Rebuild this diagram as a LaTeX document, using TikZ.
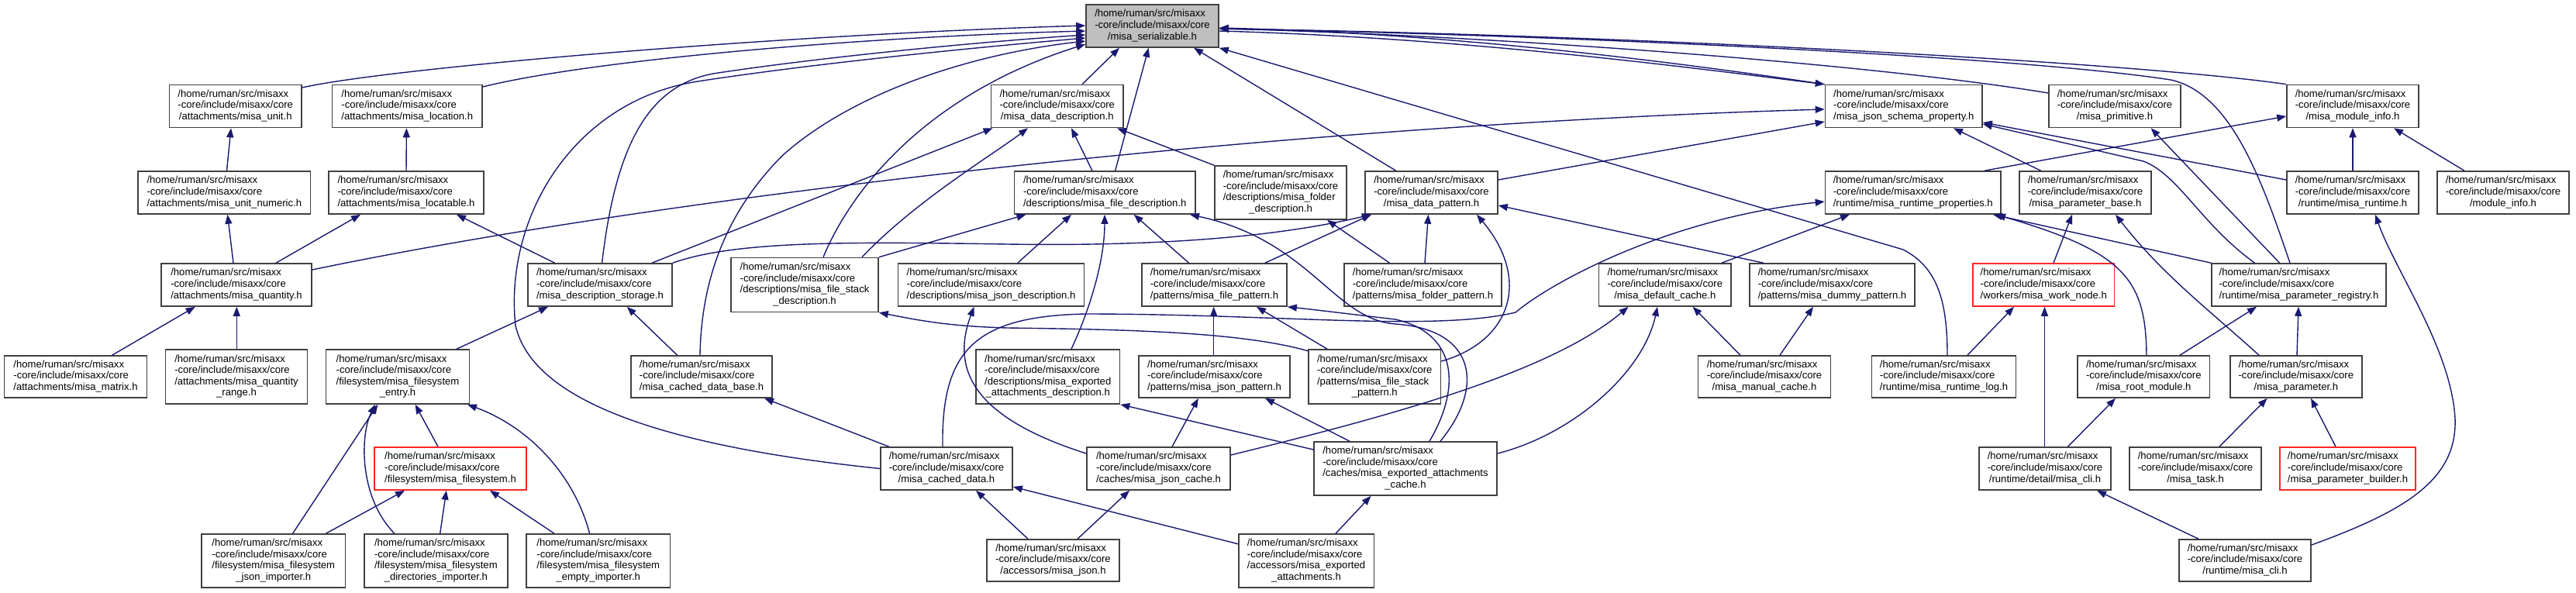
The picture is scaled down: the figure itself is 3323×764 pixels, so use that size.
\documentclass[tikz,border=0pt]{standalone}
\usepackage{fontspec}
\setmainfont{Liberation Sans}
\usetikzlibrary{arrows.meta}
\definecolor{edgec}{HTML}{191970}
\definecolor{boxc}{HTML}{404040}
\definecolor{serfill}{HTML}{BFBFBF}
\newcommand{\lblA}[1]{\begin{tabular}{@{}l@{}}/home/ruman/src/misaxx\\-core/include/misaxx/core\\\multicolumn{1}{@{}c@{}}{#1}\end{tabular}}
\newcommand{\lblB}[2]{\begin{tabular}{@{}l@{}}/home/ruman/src/misaxx\\-core/include/misaxx/core\\#1\\\multicolumn{1}{@{}c@{}}{#2}\end{tabular}}
\tikzset{
  nbox/.style={draw=boxc, line width=1.6pt, fill=white, inner sep=0pt, minimum height=55pt, font=\fontsize{13.1}{14.6}\selectfont},
  tall/.style={minimum height=69pt},
  rbox/.style={nbox, draw=red!85!white},
  edg/.style={draw=edgec, line width=1.4pt, -{Triangle[length=12pt,width=9pt]}},
}
\begin{document}
\begin{tikzpicture}[x=1pt,y=-1pt]
\useasboundingbox (0,0) rectangle (3323,764);
% row 0
\node[nbox,minimum width=171pt,fill=serfill] (ser) at (1486.5,33.5) {\lblA{/misa\_serializable.h}};
% row 1
\node[nbox,minimum width=170.5pt] (unit) at (303.75,137) {\lblA{/attachments/misa\_unit.h}};
\node[nbox,minimum width=193.5pt] (location) at (525.25,137) {\lblA{/attachments/misa\_location.h}};
\node[nbox,minimum width=170.5pt] (datadesc) at (1363.75,137) {\lblA{/misa\_data\_description.h}};
\node[nbox,minimum width=202.5pt] (jsp) at (2455.75,137) {\lblA{/misa\_json\_schema\_property.h}};
\node[nbox,minimum width=170pt] (primitive) at (2728,137) {\lblA{/misa\_primitive.h}};
\node[nbox,minimum width=170pt] (moduleinfo) at (3035,137) {\lblA{/misa\_module\_info.h}};
% row 2
\node[nbox,minimum width=222.6pt] (unitnum) at (289.3,248.5) {\lblA{/attachments/misa\_unit\_numeric.h}};
\node[nbox,minimum width=200pt] (locatable) at (524,248.5) {\lblA{/attachments/misa\_locatable.h}};
\node[nbox,minimum width=233.5pt] (filedesc) at (1425.25,248.5) {\lblA{/descriptions/misa\_file\_description.h}};
\node[nbox,tall,minimum width=170pt] (folderdesc) at (1652,248.5) {\lblB{/descriptions/misa\_folder}{\_description.h}};
\node[nbox,minimum width=171pt] (datapattern) at (1846.5,248.5) {\lblA{/misa\_data\_pattern.h}};
\node[nbox,minimum width=226.5pt] (runtimeprops) at (2467.75,248.5) {\lblA{/runtime/misa\_runtime\_properties.h}};
\node[nbox,minimum width=170pt] (parambase) at (2690,248.5) {\lblA{/misa\_parameter\_base.h}};
\node[nbox,minimum width=170pt] (runtime) at (3035,248.5) {\lblA{/runtime/misa\_runtime.h}};
\node[nbox,minimum width=170pt] (moduleinfoh) at (3229,248.5) {\lblA{/module\_info.h}};
% row 3
\node[nbox,minimum width=194pt] (quantity) at (305,367.5) {\lblA{/attachments/misa\_quantity.h}};
\node[nbox,minimum width=186pt] (descstorage) at (774,367.5) {\lblA{/misa\_description\_storage.h}};
\node[nbox,tall,minimum height=70pt,minimum width=190pt] (filestackdesc) at (1038,367.5) {\lblB{/descriptions/misa\_file\_stack}{\_description.h}};
\node[nbox,minimum width=240pt] (jsondesc) at (1278.5,367.5) {\lblA{/descriptions/misa\_json\_description.h}};
\node[nbox,minimum width=187pt] (filepattern) at (1566.5,367.5) {\lblA{/patterns/misa\_file\_pattern.h}};
\node[nbox,minimum width=203pt] (folderpattern) at (1835.5,367.5) {\lblA{/patterns/misa\_folder\_pattern.h}};
\node[nbox,minimum width=170.4pt] (defaultcache) at (2147.8,367.5) {\lblA{/misa\_default\_cache.h}};
\node[nbox,minimum width=213pt] (dummypattern) at (2363.5,367.5) {\lblA{/patterns/misa\_dummy\_pattern.h}};
\node[rbox,minimum width=182.5pt] (worknode) at (2636.25,367.5) {\lblA{/workers/misa\_work\_node.h}};
\node[nbox,minimum width=225pt] (paramregistry) at (2965.5,367.5) {\lblA{/runtime/misa\_parameter\_registry.h}};
% row 4
\node[nbox,minimum height=54pt,minimum width=184pt] (matrix) at (97.5,486) {\lblA{/attachments/misa\_matrix.h}};
\node[nbox,minimum height=70pt,minimum width=182.7pt] (quantityrange) at (305,486) {\lblB{/attachments/misa\_quantity}{\_range.h}};
\node[nbox,minimum height=70pt,minimum width=185pt] (fsentry) at (513,486) {\lblB{/filesystem/misa\_filesystem}{\_entry.h}};
\node[nbox,minimum height=54pt,minimum width=182pt] (cacheddatabase) at (905,486) {\lblA{/misa\_cached\_data\_base.h}};
\node[nbox,minimum height=70pt,minimum width=185.5pt] (exportedattdesc) at (1351.75,486) {\lblB{/descriptions/misa\_exported}{\_attachments\_description.h}};
\node[nbox,minimum height=54pt,minimum width=195pt] (jsonpattern) at (1566.5,486) {\lblA{/patterns/misa\_json\_pattern.h}};
\node[nbox,minimum height=70pt,minimum width=170.5pt] (filestackpattern) at (1773.25,486) {\lblB{/patterns/misa\_file\_stack}{\_pattern.h}};
\node[nbox,minimum height=54pt,minimum width=171pt] (manualcache) at (2276,486) {\lblA{/misa\_manual\_cache.h}};
\node[nbox,minimum height=54pt,minimum width=186pt] (runtimelog) at (2507.5,486) {\lblA{/runtime/misa\_runtime\_log.h}};
\node[nbox,minimum height=54pt,minimum width=170.6pt] (rootmodule) at (2765.3,486) {\lblA{/misa\_root\_module.h}};
\node[nbox,minimum height=54pt,minimum width=169.7pt] (parameter) at (2961.85,486) {\lblA{/misa\_parameter.h}};
% row 5
\node[rbox,minimum width=196pt] (filesystem) at (581,604.5) {\lblA{/filesystem/misa\_filesystem.h}};
\node[nbox,minimum width=170pt] (cacheddata) at (1221,604.5) {\lblA{/misa\_cached\_data.h}};
\node[nbox,minimum width=185pt] (jsoncache) at (1494.5,604.5) {\lblA{/caches/misa\_json\_cache.h}};
\node[nbox,tall,minimum width=236pt] (exportedattcache) at (1813,604.5) {\lblB{/caches/misa\_exported\_attachments}{\_cache.h}};
\node[nbox,minimum width=170pt] (misaclidetail) at (2638,604.5) {\lblA{/runtime/detail/misa\_cli.h}};
\node[nbox,minimum width=170pt] (task) at (2832,604.5) {\lblA{/misa\_task.h}};
\node[rbox,minimum width=175pt] (parambuilder) at (3028.5,604.5) {\lblA{/misa\_parameter\_builder.h}};
% row 6
\node[nbox,tall,minimum width=185.6pt] (fsjsonimp) at (352.8,723.5) {\lblB{/filesystem/misa\_filesystem}{\_json\_importer.h}};
\node[nbox,tall,minimum width=185.3pt] (fsdirimp) at (562.35,723.5) {\lblB{/filesystem/misa\_filesystem}{\_directories\_importer.h}};
\node[nbox,tall,minimum width=185.5pt] (fsemptyimp) at (771.75,723.5) {\lblB{/filesystem/misa\_filesystem}{\_empty\_importer.h}};
\node[nbox,minimum height=54pt,minimum width=171pt] (accjson) at (1358.5,723) {\lblA{/accessors/misa\_json.h}};
\node[nbox,tall,minimum width=174.6pt] (accexported) at (1685,723.5) {\lblB{/accessors/misa\_exported}{\_attachments.h}};
\node[nbox,minimum height=54pt,minimum width=170pt] (misacli) at (2896,723) {\lblA{/runtime/misa\_cli.h}};

% ---- edges into ser
\draw[edg] (unit.east |- 0,113) .. controls (500,88) and (1000,45) .. (ser.west |- 0,33);
\draw[edg] (location.east |- 0,112) .. controls (760,78) and (1100,48) .. (ser.west |- 0,40);
\draw[edg] (descstorage.north -| 776.6,0) .. controls (795,180) and (840,110) .. (920,95) .. controls (1050,75) and (1250,55) .. (ser.west |- 0,45);
\draw[edg] (cacheddata.west) .. controls (900,580) and (690,530) .. (665,420) .. controls (650,280) and (740,130) .. (900,105) .. controls (1050,82) and (1250,62) .. (ser.west |- 0,49);
\draw[edg] (cacheddatabase.north -| 903,0) .. controls (905,330) and (960,250) .. (1010,200) .. controls (1100,120) and (1250,70) .. (ser.west |- 0,53);
\draw[edg] (filestackdesc.north -| 1062,0) .. controls (1100,240) and (1200,120) .. (ser.west |- 0,57);
\draw[edg] (datadesc.north -| 1396,0) -- (ser.south -| 1444,0);
\draw[edg] (filedesc.north -| 1438.6,0) -- (ser.south -| 1481.7,0);
\draw[edg] (datapattern.north -| 1800.7,0) -- (ser.south -| 1540,0);
\draw[edg] (runtimelog.north -| 2512,0) .. controls (2512,390) and (2500,345) .. (2455,322) -- (ser.south east);
\draw[edg] (ser.east |- 0,40) .. controls (1900,49) and (2200,90) .. (jsp.north west);
\draw[edg] (jsp.north west) .. controls (2200,86) and (1900,44) .. (ser.east |- 0,36);
\draw[edg] (primitive.west |- 0,120) .. controls (2400,80) and (1900,45) .. (ser.east |- 0,37);
\draw[edg] (moduleinfo.north west) .. controls (2750,80) and (2100,45) .. (ser.east |- 0,37);
\draw[edg] (paramregistry.north -| 2954,0) .. controls (2920,240) and (2880,120) .. (2800,103) .. controls (2600,72) and (2000,45) .. (ser.east |- 0,37);
% ---- jsp
\draw[edg] (quantity.east |- 0,348) .. controls (900,245) and (1700,160) .. (jsp.west |- 0,141);
\draw[edg] (datapattern.east |- 0,232) -- (jsp.west |- 0,157);
\draw[edg] (parambase.north -| 2632.6,0) -- (jsp.south -| 2520,0);
\draw[edg] (runtime.west |- 0,232) -- (jsp.east |- 0,158);
\draw[edg] (paramregistry.north -| 2908.5,0) .. controls (2840,290) and (2810,225) .. (2765,208) -- (jsp.east |- 0,160);
\draw[edg] (paramregistry.north -| 2940.6,0) -- (primitive.south -| 2774.6,0);
% ---- runtime properties, module info
\draw[edg] (paramregistry.north west) -- (runtimeprops.south -| 2571,0);
\draw[edg] (rootmodule.north -| 2769,0) .. controls (2768,360) and (2740,325) .. (runtimeprops.south -| 2575,0);
\draw[edg] (runtimeprops.north -| 2560,0) -- (moduleinfo.west |- 0,150);
\draw[edg] (runtime.north) -- (moduleinfo.south);
\draw[edg] (moduleinfoh.north -| 3179,0) -- (moduleinfo.south -| 3088,0);
\draw[edg] (cacheddata.north -| 1216,0) .. controls (1214,450) and (1260,408) .. (1400,405) .. controls (1650,405) and (1850,428) .. (1955,403) .. controls (2000,365) and (2150,282) .. (runtimeprops.west |- 0,260);
\draw[edg] (defaultcache.north -| 2221,0) -- (runtimeprops.south -| 2386,0);
% ---- right part
\draw[edg] (worknode.north -| 2649,0) -- (parambase.south -| 2673,0);
\draw[edg] (parameter.north -| 2914,0) .. controls (2850,400) and (2790,355) .. (parambase.south -| 2729,0);
\draw[edg] (runtimelog.north -| 2538,0) -- (worknode.south -| 2598,0);
\draw[edg] (misaclidetail.north -| 2637.5,0) -- (worknode.south -| 2637.5,0);
\draw[edg] (rootmodule.north -| 2812,0) -- (paramregistry.south -| 2911,0);
\draw[edg] (parameter.north -| 2963,0) -- (paramregistry.south -| 2965,0);
\draw[edg] (misaclidetail.north -| 2667.5,0) -- (rootmodule.south -| 2729,0);
\draw[edg] (task.north -| 2863,0) -- (parameter.south -| 2924.6,0);
\draw[edg] (parambuilder.north -| 3013,0) -- (parameter.south -| 2981,0);
\draw[edg] (misacli.north -| 2836,0) -- (misaclidetail.south -| 2705,0);
\draw[edg] (misacli.east |- 0,703) .. controls (3100,660) and (3170,620) .. (3167,540) .. controls (3162,450) and (3090,350) .. (runtime.south -| 3064,0);
% ---- left part
\draw[edg] (unitnum.north -| 292.5,0) -- (unit.south -| 298,0);
\draw[edg] (locatable.north -| 524,0) -- (location.south -| 524.4,0);
\draw[edg] (quantity.north -| 301,0) -- (unitnum.south -| 293.5,0);
\draw[edg] (quantity.north -| 356,0) -- (locatable.south -| 465,0);
\draw[edg] (descstorage.north -| 715.6,0) -- (locatable.south -| 589,0);
\draw[edg] (matrix.north -| 144.6,0) -- (quantity.south -| 251.7,0);
\draw[edg] (quantityrange.north -| 305.3,0) -- (quantity.south -| 305.3,0);
\draw[edg] (fsentry.north -| 589,0) -- (descstorage.south -| 707,0);
\draw[edg] (cacheddatabase.north -| 873.6,0) -- (descstorage.south -| 808.8,0);
\draw[edg] (filesystem.north -| 565,0) -- (fsentry.south -| 535.6,0);
\draw[edg] (fsjsonimp.north -| 377.6,0) -- (fsentry.south -| 487.4,0);
\draw[edg] (fsdirimp.north -| 508.8,0) .. controls (462,640) and (465,560) .. (fsentry.south -| 484,0);
\draw[edg] (fsemptyimp.north -| 760.6,0) .. controls (740,610) and (680,550) .. (fsentry.south -| 603,0);
\draw[edg] (fsjsonimp.north -| 420.5,0) -- (filesystem.south -| 522,0);
\draw[edg] (fsdirimp.north -| 567.7,0) -- (filesystem.south -| 575.8,0);
\draw[edg] (fsemptyimp.north -| 715,0) -- (filesystem.south -| 632,0);
% ---- descriptions
\draw[edg] (descstorage.north -| 841,0) -- (datadesc.south -| 1280.6,0);
\draw[edg] (filestackdesc.north -| 1112,0) .. controls (1180,260) and (1280,200) .. (datadesc.south -| 1326,0);
\draw[edg] (filedesc.north -| 1409,0) -- (datadesc.south -| 1382,0);
\draw[edg] (folderdesc.north west) -- (datadesc.south -| 1441,0);
\draw[edg] (filestackdesc.north east) -- (filedesc.south -| 1323.5,0);
\draw[edg] (jsondesc.north -| 1312.8,0) -- (filedesc.south -| 1382,0);
\draw[edg] (exportedattdesc.north -| 1382,0) .. controls (1410,390) and (1425,330) .. (filedesc.south -| 1425,0);
\draw[edg] (filepattern.north -| 1533.6,0) -- (filedesc.south -| 1462.7,0);
\draw[edg] (exportedattcache.north -| 1858,0) .. controls (1915,500) and (1905,425) .. (1800,418) .. controls (1720,412) and (1690,310) .. (filedesc.south -| 1535,0);
\draw[edg] (exportedattcache.north -| 1844,0) .. controls (1885,500) and (1880,430) .. (1800,412) .. controls (1740,405) and (1700,400) .. (filepattern.south east);
% ---- patterns
\draw[edg] (descstorage.north east) .. controls (950,310) and (1100,312) .. (1300,315) .. controls (1500,318) and (1650,305) .. (datapattern.south -| 1769,0);
\draw[edg] (filepattern.north -| 1631.8,0) -- (datapattern.south -| 1769,0);
\draw[edg] (folderpattern.north -| 1838,0) -- (datapattern.south -| 1842.5,0);
\draw[edg] (filestackpattern.east |- 0,466) .. controls (1950,440) and (1975,360) .. (datapattern.south -| 1905,0);
\draw[edg] (dummypattern.north -| 2274.7,0) -- (datapattern.east |- 0,265);
\draw[edg] (folderpattern.north -| 1792.5,0) -- (folderdesc.south -| 1712,0);
\draw[edg] (jsonpattern.north -| 1565.7,0) -- (filepattern.south -| 1565.7,0);
\draw[edg] (filestackpattern.north -| 1712,0) -- (filepattern.south -| 1621,0);
\draw[edg] (filestackpattern.west |- 0,452.7) .. controls (1600,428) and (1450,425) .. (1300,423) .. controls (1220,421) and (1180,412) .. (filestackdesc.south east);
\draw[edg] (jsoncache.west |- 0,585) .. controls (1260,540) and (1225,480) .. (jsondesc.south -| 1256.5,0);
\draw[edg] (exportedattcache.west |- 0,580) -- (exportedattdesc.south east);
\draw[edg] (jsoncache.north -| 1512,0) -- (jsonpattern.south -| 1545.8,0);
\draw[edg] (exportedattcache.north -| 1741,0) -- (jsonpattern.south -| 1632,0);
% ---- caches
\draw[edg] (jsoncache.east |- 0,587) .. controls (1800,535) and (2000,480) .. (defaultcache.south -| 2100.6,0);
\draw[edg] (exportedattcache.east |- 0,585) .. controls (2030,560) and (2120,480) .. (defaultcache.south -| 2138,0);
\draw[edg] (manualcache.north -| 2245,0) -- (defaultcache.south -| 2183.6,0);
\draw[edg] (manualcache.north -| 2296,0) -- (dummypattern.south -| 2339,0);
\draw[edg] (cacheddata.north -| 1146.7,0) -- (cacheddatabase.south -| 986,0);
\draw[edg] (accjson.north -| 1326,0) -- (cacheddata.south -| 1259,0);
\draw[edg] (accexported.west |- 0,701.7) -- (cacheddata.east |- 0,628);
\draw[edg] (accjson.north -| 1390,0) -- (jsoncache.south -| 1457,0);
\draw[edg] (accexported.north -| 1723,0) -- (exportedattcache.south -| 1768.5,0);
\end{tikzpicture}
\end{document}
